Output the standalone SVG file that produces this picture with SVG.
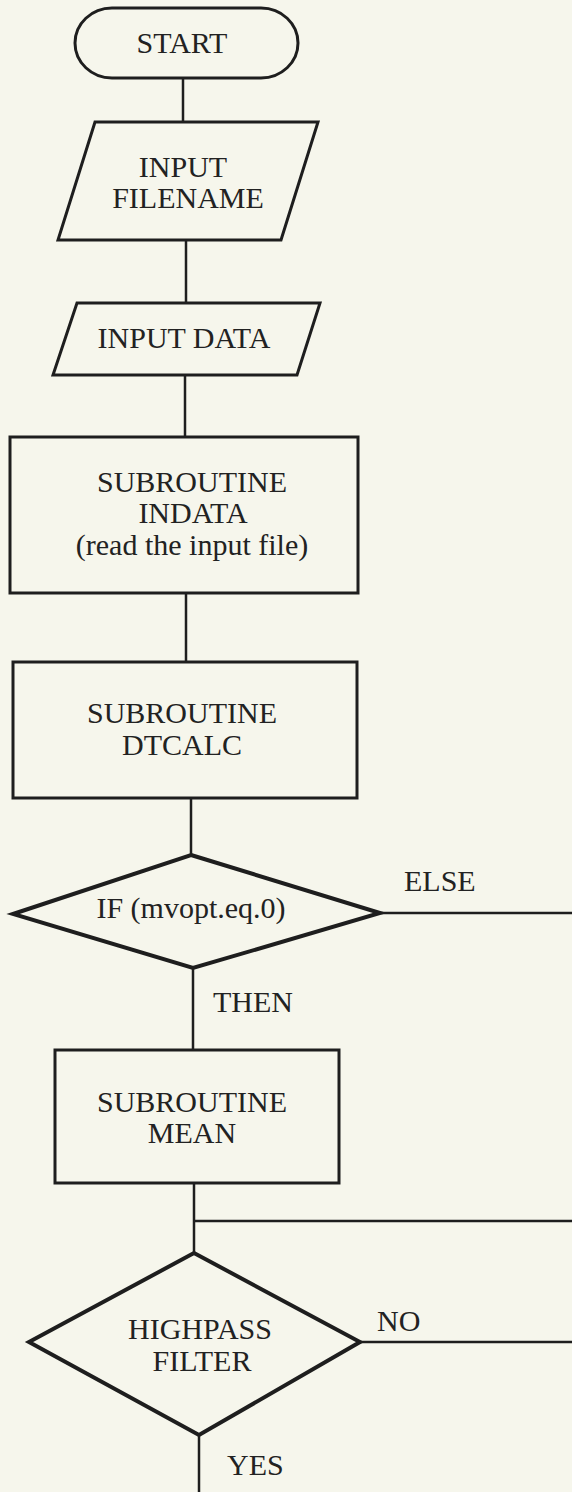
<svg xmlns="http://www.w3.org/2000/svg" width="572" height="1492" viewBox="0 0 572 1492">
<style>
.bg{fill:#f6f6ec}
.box{fill:none;stroke:#1e1e1e;stroke-width:3}
.dia{fill:none;stroke:#1e1e1e;stroke-width:4;stroke-linejoin:miter}
.ln{fill:none;stroke:#1e1e1e;stroke-width:2.5}
text{font-family:"Liberation Serif","Times New Roman",serif;font-size:30px;fill:#222}
.c{text-anchor:middle}
</style>
<rect class="bg" x="0" y="0" width="572" height="1492"/>
<g id="connectors">
<line class="ln" x1="183" y1="78" x2="183" y2="122"/>
<line class="ln" x1="186" y1="240" x2="186" y2="303"/>
<line class="ln" x1="185" y1="375" x2="185" y2="437"/>
<line class="ln" x1="186" y1="593" x2="186" y2="662"/>
<line class="ln" x1="191" y1="798" x2="191" y2="855"/>
<line class="ln" x1="380" y1="913" x2="572" y2="913"/>
<line class="ln" x1="193" y1="968" x2="193" y2="1050"/>
<line class="ln" x1="194" y1="1183" x2="194" y2="1253"/>
<line class="ln" x1="194" y1="1221" x2="572" y2="1221"/>
<line class="ln" x1="360" y1="1342" x2="572" y2="1342"/>
<line class="ln" x1="199" y1="1435" x2="199" y2="1492"/>
<text x="404" y="891">ELSE</text>
<text x="213" y="1012">THEN</text>
<text x="377" y="1331">NO</text>
<text x="227" y="1475">YES</text>
</g>
<g id="start">
<rect class="box" x="75" y="8" width="223" height="70" rx="37" ry="35"/>
<text class="c" x="182" y="53">START</text>
</g>
<g id="input-filename">
<polygon class="box" points="95,122 318,122 281,240 58,240"/>
<text class="c" x="183" y="177">INPUT</text>
<text class="c" x="188" y="208">FILENAME</text>
</g>
<g id="input-data">
<polygon class="box" points="77,303 320,303 297,375 53,375"/>
<text class="c" x="184" y="348">INPUT DATA</text>
</g>
<g id="indata">
<rect class="box" x="10" y="437" width="348" height="156"/>
<text class="c" x="192" y="492">SUBROUTINE</text>
<text class="c" x="193" y="523">INDATA</text>
<text class="c" x="192" y="555">(read the input file)</text>
</g>
<g id="dtcalc">
<rect class="box" x="13" y="662" width="344" height="136"/>
<text class="c" x="182" y="723">SUBROUTINE</text>
<text class="c" x="182" y="755">DTCALC</text>
</g>
<g id="if-mvopt">
<polygon class="dia" points="191,855 380,913 193,968 13,914"/>
<text class="c" x="191" y="918">IF (mvopt.eq.0)</text>
</g>
<g id="mean">
<rect class="box" x="55" y="1050" width="284" height="133"/>
<text class="c" x="192" y="1112">SUBROUTINE</text>
<text class="c" x="192" y="1143">MEAN</text>
</g>
<g id="highpass">
<polygon class="dia" points="194,1253 360,1342 199,1435 29,1342"/>
<text class="c" x="200" y="1339">HIGHPASS</text>
<text class="c" x="202" y="1371">FILTER</text>
</g>
</svg>
